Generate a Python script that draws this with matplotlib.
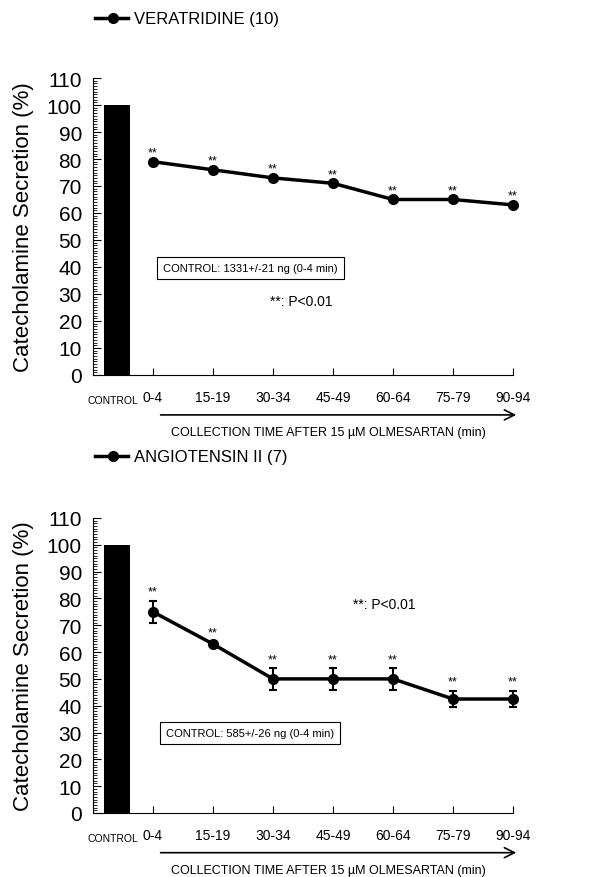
import numpy as np
import matplotlib
matplotlib.use('Agg')
import matplotlib.pyplot as plt
from matplotlib.ticker import MultipleLocator

plt.rcParams['font.family'] = ['Liberation Sans', 'DejaVu Sans']

periods = ['0-4', '15-19', '30-34', '45-49', '60-64', '75-79', '90-94']
control_value = 100

verat_values = [79, 76, 73, 71, 65, 65, 63]
verat_err = [0, 0, 0, 0, 0, 0, 0]

ang_values = [75, 63, 50, 50, 50, 42.5, 42.5]
ang_err = [4, 1, 4, 4, 4, 3, 3]

panels = [
    dict(name='VERATRIDINE (10)', values=verat_values, err=verat_err,
         box='CONTROL: 1331+/-21 ng (0-4 min)', box_y=39.5,
         p_xy=(1.95, 27.5), rect=[0.1525, 0.5718, 0.6885, 0.3382], top=0.978),
    dict(name='ANGIOTENSIN II (7)', values=ang_values, err=ang_err,
         box='CONTROL: 585+/-26 ng (0-4 min)', box_y=29.8,
         p_xy=(3.33, 78), rect=[0.1525, 0.0729, 0.6885, 0.336], top=0.479),
]

fig = plt.figure(figsize=(6.1, 8.78), dpi=100)

for p in panels:
    ax = fig.add_axes(p['rect'])
    x = np.arange(len(periods))
    ax.bar(-0.6, control_value, width=0.42, color='black')
    ax.errorbar(x, p['values'], yerr=p['err'], color='black', lw=2.5,
                marker='o', ms=7, capsize=3, capthick=1.5, elinewidth=1.5,
                clip_on=False)
    for xi, v, e in zip(x, p['values'], p['err']):
        ax.text(xi, v + e + 1.2, '**', ha='center', va='bottom', fontsize=9)

    ax.set_xlim(-1, 6)
    ax.set_ylim(0, 110)
    ax.yaxis.set_major_locator(MultipleLocator(10))
    ax.yaxis.set_minor_locator(MultipleLocator(1))
    ax.tick_params(axis='y', which='major', direction='in', length=6,
                   labelsize=15, pad=8)
    ax.tick_params(axis='y', which='minor', direction='in', length=3)
    ax.set_xticks(x)
    ax.set_xticklabels(periods)
    ax.tick_params(axis='x', direction='in', length=5, labelsize=10, pad=11)
    for s in ['top', 'right']:
        ax.spines[s].set_visible(False)
    ax.text(-0.67, -7.5, 'CONTROL', ha='center', va='top', fontsize=7.5)
    ax.set_ylabel('Catecholamine Secretion (%)', fontsize=16, labelpad=9)

    ax.text(1.62, p['box_y'], p['box'], ha='center', va='center', fontsize=8,
            bbox=dict(boxstyle='square,pad=0.55', fc='white', ec='black', lw=0.8))
    ax.text(p['p_xy'][0], p['p_xy'][1], '**: P<0.01', ha='left', va='center',
            fontsize=10)

    ax.annotate('', xy=(6.1, -14.8), xytext=(0.08, -14.8),
                xycoords='data', annotation_clip=False,
                arrowprops=dict(arrowstyle='->', lw=1.2, color='black',
                                mutation_scale=18))
    ax.text(2.93, -21.2, 'COLLECTION TIME AFTER 15 \u00b5M OLMESARTAN (min)',
            ha='center', va='center', fontsize=9)

    # legend-style header
    fig.lines.append(plt.Line2D([0.156, 0.21], [p['top'], p['top']], color='black',
                                lw=2.5, transform=fig.transFigure))
    fig.lines.append(plt.Line2D([0.185], [p['top']], color='black', marker='o',
                                ms=7, transform=fig.transFigure))
    fig.text(0.22, p['top'], p['name'], ha='left', va='center', fontsize=12)

fig.savefig('out.png', dpi=100)
